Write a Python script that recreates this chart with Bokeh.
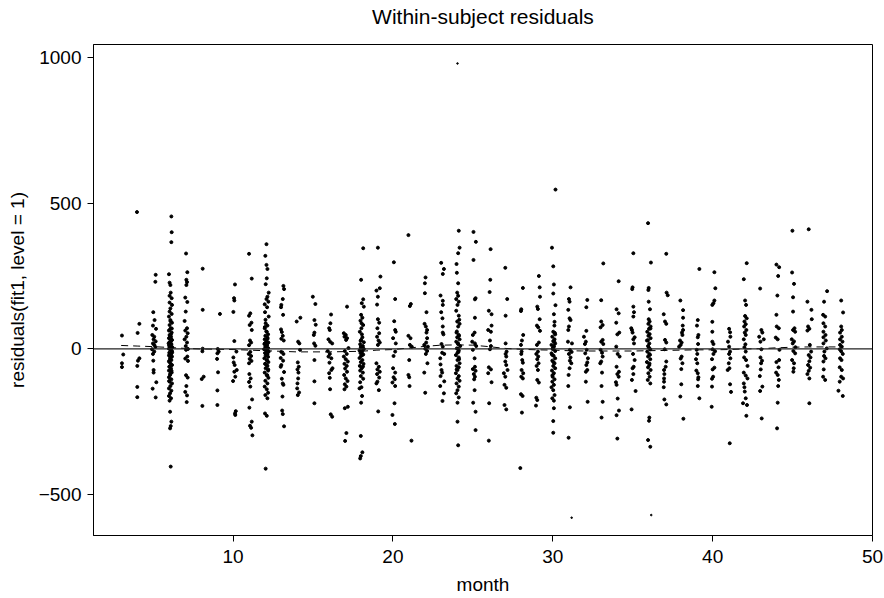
from bokeh.plotting import figure
from bokeh.models import ColumnDataSource, Span, FixedTicker, Range1d, LinearAxis
from bokeh.embed import file_html
from bokeh.resources import INLINE

# (jittered month, within-subject residual), one line per visit month
year1 = [
    (3.05, 46), (3.13, -19), (3.05, -49), (3.05, -62),
    (3.99, 469), (4.14, 86), (4.03, 55), (4.14, -32), (4.05, -40), (4.01, -58), (4.01, -130), (4.01, -165),
    (5.16, 254), (5.14, 230), (5.01, 126), (5.09, 99), (4.99, 80), (5.18, 69), (4.95, 48), (5.07, 42), (5.03, 33),
    (5.16, 26), (4.99, 19), (5.07, 14), (5.14, 7), (4.93, -1), (5.07, -9), (4.99, -17), (5.01, -40), (5.03, -72),
    (5.03, -81), (5.20, -114), (4.97, -136), (5.16, -166),
    (6.14, 454), (6.16, 400), (6.14, 366), (5.99, 256), (6.03, 227), (6.08, 219), (6.10, 193), (6.03, 182), (6.16, 174),
    (6.03, 159), (6.18, 151), (6.08, 139), (6.03, 128), (6.16, 120), (5.99, 111), (6.08, 99), (6.18, 90), (6.03, 82),
    (6.10, 71), (5.99, 63), (6.16, 56), (6.03, 48), (6.12, 42), (5.99, 37), (6.18, 31), (6.06, 25), (5.97, 19),
    (6.14, 15), (6.03, 10), (6.20, 6), (5.99, 1), (6.10, -3), (6.18, -8), (6.01, -13), (6.12, -17), (5.99, -22),
    (6.18, -26), (6.06, -32), (6.14, -38), (5.99, -43), (6.08, -49), (6.18, -55), (6.01, -61), (6.12, -67), (5.99, -74),
    (6.16, -81), (6.06, -89), (5.99, -97), (6.14, -104), (6.03, -112), (6.18, -118), (6.08, -127), (5.99, -135),
    (6.14, -143), (6.06, -152), (5.99, -161), (6.12, -169), (6.03, -177), (6.06, -215), (6.14, -249), (6.10, -264),
    (6.06, -272), (6.10, -403), (6.05, 5), (6.13, -5), (6.00, 12), (6.09, -20), (6.15, 30), (6.02, -40), (6.11, 50),
    (6.04, -60), (6.17, 70), (6.07, -85), (6.12, 0), (6.01, 22), (6.19, -12), (6.06, 44), (6.10, -30), (6.03, 65),
    (6.15, -75), (6.09, 95), (6.00, -110), (6.13, 18),
    (7.06, 327), (7.14, 263), (7.08, 237), (7.12, 229), (7.08, 219), (7.01, 176), (7.14, 161), (7.04, 128), (6.97, 96),
    (7.12, 71), (7.01, 63), (7.16, 54), (7.08, 42), (6.97, 33), (7.12, 22), (7.04, 10), (7.18, 0), (7.06, -3),
    (7.14, -26), (7.01, -33), (7.18, -41), (7.06, -90), (7.16, -98), (7.08, -127), (7.01, -147), (7.12, -159), (7.10, -182),
    (8.10, 275), (8.10, 134), (8.10, 1), (8.08, -8), (8.16, -95), (8.04, -103), (8.08, -195),
    (9.18, 120), (9.04, 0), (9.10, -9), (9.02, -15), (9.00, -34), (9.06, -80), (9.02, -142), (9.02, -192),
    (10.12, 221), (10.06, 174), (10.08, 166), (10.02, 127), (10.08, 27), (10.21, -9), (10.02, -29), (10.04, -46),
    (10.10, -55), (10.23, -72), (10.08, -78), (10.14, -95), (10.00, -110), (10.17, -213), (10.12, -221), (10.14, -226),
    (11.00, 326), (11.17, 241), (11.08, 122), (11.00, 114), (11.15, 90), (11.04, 82), (11.17, 65), (11.06, 29),
    (11.13, 22), (11.00, 13), (11.08, -10), (10.98, -17), (11.13, -24), (11.04, -34), (11.15, -41), (11.00, -49),
    (11.02, -86), (11.10, -101), (11.00, -113), (11.08, -129), (11.19, -173), (11.02, -201), (11.17, -249),
    (11.06, -263), (11.13, -270), (11.21, -296),
    (12.09, 359), (12.02, 319), (12.09, 288), (12.15, 274), (12.11, 242), (12.04, 222), (12.23, 193), (12.15, 179),
    (12.09, 171), (12.21, 162), (11.98, 153), (12.13, 143), (12.00, 126), (12.23, 111), (12.04, 88), (12.15, 80),
    (11.98, 71), (12.11, 59), (12.19, 50), (12.02, 45), (12.15, 39), (11.98, 33), (12.09, 27), (12.21, 22), (11.96, 17),
    (12.13, 13), (12.02, 8), (12.19, 3), (11.94, -1), (12.11, -5), (12.23, -9), (12.00, -14), (12.15, -18), (12.04, -23),
    (12.19, -27), (11.96, -32), (12.11, -38), (12.21, -45), (12.00, -51), (12.15, -58), (12.04, -66), (12.19, -74),
    (11.98, -81), (12.11, -90), (12.21, -99), (12.02, -109), (12.15, -118), (11.98, -129), (12.11, -138), (12.19, -150),
    (12.02, -158), (12.15, -169), (12.00, -221), (12.11, -229), (12.04, -410), (12.06, 5), (12.17, -10), (12.00, 20),
    (12.13, -40), (12.08, 60), (12.20, -70), (12.03, 100), (12.12, -20), (12.16, 35), (12.05, 0), (12.10, -55),
    (11.99, 75), (12.14, -90), (12.07, 15),
]

year2 = [
    (13.15, 216), (13.19, 205), (13.11, 171), (13.02, 151), (13.00, 143), (13.13, 117), (13.00, 67), (13.05, 58),
    (13.11, 45), (13.02, 35), (13.17, 29), (13.02, -10), (13.15, -17), (12.98, -31), (13.13, -40), (13.02, -55),
    (12.98, -61), (13.19, -79), (13.05, -102), (13.11, -118), (13.15, -123), (13.09, -163), (13.07, -211),
    (13.11, -223), (13.19, -265),
    (14.21, 107), (13.98, 94), (14.07, 25), (14.15, 19), (14.19, -3), (14.05, -46), (14.11, -61), (14.03, -70),
    (14.09, -81), (14.07, -101), (14.03, -118), (14.01, -135), (14.13, -149), (14.05, -158),
    (14.99, 179), (15.15, 154), (15.09, 99), (15.17, 83), (15.09, 56), (15.05, 48), (15.07, 19), (15.15, 11),
    (15.09, -38), (15.09, -111), (15.09, -186),
    (16.13, 118), (16.09, 88), (16.01, 71), (16.05, 65), (15.97, 33), (16.07, 25), (16.20, 19), (15.92, -7),
    (16.05, -17), (15.97, -26), (16.15, -32), (16.03, -47), (16.22, -66), (16.15, -72), (16.01, -83), (16.05, -99),
    (16.07, -138), (16.11, -224), (16.20, -232),
    (17.13, 145), (16.93, 54), (17.05, 48), (16.97, 42), (17.13, 37), (17.07, 31), (17.22, 3), (16.99, -7),
    (17.11, -17), (16.93, -26), (17.05, -35), (17.18, -43), (16.97, -51), (17.11, -58), (17.01, -67), (17.13, -78),
    (16.95, -89), (17.05, -101), (17.16, -110), (16.99, -121), (17.09, -129), (16.97, -138), (16.99, -203),
    (17.18, -198), (17.09, -288), (17.01, -315),
    (18.14, 345), (18.01, 237), (18.14, 170), (18.05, 157), (18.18, 145), (18.01, 117), (18.09, 107), (17.97, 97),
    (18.14, 82), (18.03, 71), (17.93, 59), (18.09, 40), (18.01, 31), (18.18, 23), (17.95, 16), (18.12, 10), (17.99, 6),
    (18.18, 0), (17.91, -5), (18.07, -9), (17.97, -14), (18.14, -19), (18.01, -24), (17.91, -31), (18.09, -38),
    (17.99, -45), (18.16, -51), (17.93, -58), (18.05, -66), (17.95, -74), (18.12, -81), (17.99, -93), (18.14, -102),
    (17.95, -114), (18.03, -131), (17.91, -135), (18.07, -161), (18.01, -184), (17.99, -298), (18.09, -354),
    (17.99, -367), (17.95, -375), (18.06, 50), (18.10, -20), (17.98, 28), (18.13, -60), (18.04, 88), (18.11, 2),
    (19.06, 347), (19.22, 248), (19.18, 208), (18.97, 200), (19.06, 179), (19.01, 152), (19.06, 102), (19.14, 90),
    (19.03, 71), (19.14, 54), (19.01, 42), (19.10, 29), (19.18, 22), (19.06, 14), (18.97, -49), (19.12, -61),
    (19.03, -70), (19.18, -78), (19.01, -86), (19.14, -98), (19.03, -112), (18.97, -118), (19.12, -141), (19.08, -214),
    (20.06, 297), (20.14, 171), (20.08, 95), (20.14, 65), (20.18, 59), (20.01, 37), (20.18, 19), (20.14, -9),
    (20.04, -24), (20.01, -66), (20.14, -81), (20.04, -97), (20.12, -104), (19.97, -115), (20.14, -127), (20.10, -186),
    (19.97, -226), (20.12, -257),
    (20.97, 390), (21.12, 154), (21.06, 147), (20.97, 45), (21.10, 37), (21.06, 14), (21.18, 8), (21.02, -38),
    (20.97, -89), (21.02, -97), (21.04, -127), (21.16, -314),
    (22.04, 245), (22.00, 225), (22.00, 191), (22.10, 126), (21.98, 86), (22.06, 77), (22.14, 65), (22.10, 56),
    (22.14, 37), (22.08, 22), (21.96, 14), (22.19, 8), (22.02, 1), (22.14, -7), (22.06, -17), (22.16, -49),
    (21.96, -81), (22.02, -150),
    (23.02, 295), (23.19, 274), (23.12, 257), (22.98, 183), (23.12, 165), (23.12, 151), (23.02, 126), (23.10, 105),
    (23.12, 77), (23.12, 56), (23.16, 50), (23.04, 17), (23.12, 8), (23.08, -13), (23.21, -17), (22.96, -32),
    (22.98, -53), (23.04, -72), (23.08, -81), (22.98, -93), (23.21, -111), (22.96, -127), (23.19, -152), (23.10, -178),
    (24.04, 978), (24.12, 405), (24.17, 347), (24.08, 328), (23.98, 291), (24.00, 261), (24.08, 225), (24.02, 193),
    (24.08, 182), (23.96, 171), (24.12, 162), (24.04, 151), (23.96, 131), (24.12, 114), (24.02, 94), (24.17, 86),
    (24.08, 77), (23.98, 56), (24.12, 48), (24.02, 40), (24.17, 33), (23.96, 25), (24.08, 17), (24.21, 10), (24.00, 2),
    (24.12, -5), (24.04, -13), (23.94, -21), (24.12, -29), (24.04, -38), (24.17, -49), (23.98, -58), (24.12, -63),
    (24.04, -72), (23.94, -83), (24.12, -93), (24.04, -101), (24.17, -109), (23.98, -118), (24.12, -129), (24.04, -141),
    (23.96, -152), (24.12, -166), (24.04, -184), (24.04, -249), (24.08, -330), (24.06, 20), (24.14, -35), (24.00, 60),
    (24.10, -10), (24.15, 100), (23.99, -70), (24.07, 0), (24.13, 45),
]

year3 = [
    (25.04, 401), (25.19, 367), (25.04, 305), (25.17, 174), (25.13, 170), (25.13, 107), (25.11, 56), (25.00, 48),
    (24.96, 25), (25.13, 19), (25.21, 10), (25.00, -3), (25.11, -32), (25.13, -61), (25.00, -69), (25.17, -75),
    (25.06, -86), (25.13, -95), (25.08, -104), (25.11, -141), (25.02, -184), (25.17, -215), (25.17, -278),
    (26.11, 342), (26.09, 237), (26.05, 195), (26.00, 131), (26.17, 119), (26.17, 80), (25.96, 65), (26.13, 59),
    (26.07, 29), (26.13, 10), (26.07, -1), (26.00, -63), (26.13, -70), (25.96, -83), (26.17, -114), (26.02, -186),
    (26.00, -314),
    (27.03, 278), (27.15, 171), (27.05, 114), (27.05, 19), (27.11, -9), (27.05, -17), (27.09, -26), (27.03, -43),
    (27.09, -55), (27.17, -72), (26.94, -83), (27.03, -95), (26.98, -123), (27.09, -133), (26.98, -192), (27.09, -207),
    (28.13, 209), (28.03, 136), (28.01, 130), (28.15, 48), (28.07, 29), (28.01, 14), (28.05, -9), (28.03, -17),
    (28.09, -38), (28.13, -47), (28.05, -72), (28.15, -83), (28.03, -95), (28.13, -101), (28.01, -155), (28.11, -161),
    (28.07, -218), (27.97, -408),
    (29.13, 250), (29.18, 211), (29.20, 179), (29.03, 145), (29.07, 137), (29.18, 102), (29.01, 80), (29.09, 74),
    (29.20, 62), (29.13, 22), (29.01, 14), (29.07, -9), (28.97, -17), (29.09, -26), (29.03, -35), (29.11, -49),
    (28.99, -58), (29.07, -72), (29.03, -106), (29.13, -115), (28.97, -167), (29.03, -175), (28.95, -194),
    (30.17, 546), (29.95, 347), (30.03, 283), (30.07, 221), (30.03, 190), (30.17, 150), (30.07, 119), (30.11, 93),
    (30.03, 59), (30.15, 50), (29.97, 42), (30.11, 33), (30.03, 27), (30.15, 19), (29.92, 14), (30.07, 8), (29.99, 0),
    (30.15, -7), (29.92, -15), (30.05, -23), (30.15, -32), (29.97, -40), (30.11, -49), (30.03, -58), (30.15, -66),
    (29.95, -74), (30.07, -83), (29.99, -95), (30.11, -104), (29.97, -112), (30.07, -123), (29.92, -131), (30.03, -141),
    (30.11, -158), (29.97, -169), (30.07, -177), (30.07, -203), (30.03, -247), (30.03, -287), (30.01, 3), (30.09, 25),
    (29.96, -20), (30.13, 55), (30.04, -45), (30.10, 80), (29.98, -90), (30.06, 10),
    (31.11, 211), (31.01, 171), (31.05, 162), (30.97, 134), (31.05, 105), (31.11, 99), (31.01, 77), (30.97, 65),
    (30.95, 25), (31.20, 19), (31.07, -3), (31.18, -10), (31.01, -17), (31.11, -29), (31.07, -40), (31.16, -49),
    (31.05, -66), (30.99, -89), (30.97, -127), (31.07, -200), (30.99, -304), (31.18, -578),
    (32.16, 168), (32.10, 143), (32.10, 62), (31.95, 42), (32.07, 25), (32.01, 17), (32.12, -3), (32.03, -15),
    (32.20, -32), (32.16, -46), (32.10, -55), (32.16, -72), (32.07, -78), (32.07, -112), (32.18, -181),
    (33.16, 293), (33.03, 167), (33.03, 94), (33.12, 82), (32.99, 74), (33.12, 31), (33.03, 25), (33.16, 17),
    (32.99, -3), (33.08, -13), (33.12, -26), (33.03, -43), (32.97, -49), (33.08, -81), (33.05, -127), (33.12, -181),
    (33.05, -235),
    (34.12, 232), (33.99, 136), (34.12, 122), (33.97, 90), (34.16, 56), (34.04, 50), (33.97, 8), (34.06, -17),
    (34.18, -26), (33.99, -61), (34.14, -78), (34.04, -86), (34.12, -95), (33.95, -114), (33.99, -123), (34.06, -170),
    (34.14, -211), (33.99, -227), (34.04, -307),
    (35.04, 328), (34.99, 211), (34.97, 205), (35.04, 145), (35.08, 126), (35.04, 111), (34.91, 71), (34.95, 65),
    (34.99, 56), (35.12, 40), (35.04, 33), (35.08, 19), (35.02, -17), (35.12, -38), (35.06, -61), (34.99, -66),
    (35.04, -86), (34.95, -106), (35.18, -144), (34.93, -207),
    (35.96, 431), (36.14, 296), (36.00, 209), (35.98, 202), (36.00, 162), (36.08, 136), (36.00, 102), (36.06, 94),
    (35.98, 86), (36.12, 77), (36.02, 69), (35.91, 59), (36.06, 51), (35.98, 45), (36.12, 37), (35.89, 29), (36.04, 19),
    (35.96, 10), (36.10, -1), (35.91, -9), (36.04, -17), (35.96, -26), (36.10, -35), (35.89, -45), (36.04, -55),
    (35.96, -63), (36.12, -72), (35.98, -83), (36.06, -95), (35.94, -106), (36.10, -118), (36.04, -235), (36.02, -246),
    (35.96, -312), (36.10, -335), (36.16, -569), (36.01, 5), (36.08, -20), (35.95, 30), (36.05, -50), (36.11, 70),
]

year4 = [
    (37.10, 326), (37.12, 193), (37.19, 184), (36.94, 119), (37.02, 94), (37.10, 86), (37.02, 31), (37.10, 22),
    (37.00, -1), (37.10, -43), (37.06, -61), (36.96, -72), (36.98, -86), (36.96, -101), (36.96, -112), (36.94, -131),
    (36.98, -173), (37.10, -190),
    (37.98, 166), (38.15, 133), (38.15, 107), (38.13, 80), (38.15, 65), (38.08, 56), (38.11, 48), (37.96, 29),
    (38.06, 22), (38.00, 14), (37.90, 8), (38.06, -26), (38.00, -33), (38.11, -49), (38.04, -69), (38.04, -121),
    (37.98, -163), (38.17, -239),
    (39.17, 274), (39.07, 99), (39.02, 80), (39.11, 48), (39.07, 40), (39.09, 17), (39.00, -3), (39.04, -17),
    (38.96, -35), (39.04, -49), (38.98, -74), (39.07, -83), (39.11, -97), (39.09, -104), (39.07, -127), (39.17, -169),
    (40.11, 263), (40.17, 208), (40.11, 166), (40.05, 157), (39.98, 151), (39.98, 93), (39.98, 59), (39.98, 25),
    (40.05, 17), (40.00, -1), (40.15, -8), (40.05, -17), (39.96, -35), (40.11, -64), (40.00, -70), (40.03, -95),
    (39.96, -102), (39.96, -129), (39.94, -198),
    (41.03, 69), (41.09, 57), (41.11, 42), (40.96, 25), (41.03, 8), (41.09, -9), (41.03, -17), (41.11, -32),
    (41.01, -49), (41.05, -66), (40.94, -72), (41.09, -121), (41.15, -147), (41.07, -323),
    (42.13, 294), (41.95, 239), (42.03, 166), (42.09, 151), (42.03, 113), (42.13, 105), (41.99, 94), (42.07, 85),
    (41.97, 77), (42.11, 65), (42.01, 56), (42.07, 48), (41.95, 33), (42.05, 16), (41.99, 6), (42.07, -9), (41.97, -29),
    (42.09, -38), (42.18, -58), (41.95, -81), (42.07, -91), (42.18, -101), (41.95, -118), (41.99, -131), (42.01, -146),
    (42.07, -169), (41.90, -186), (42.15, -192), (42.11, -229),
    (42.97, 207), (43.05, 65), (43.11, 56), (42.91, 42), (43.20, 33), (42.99, 25), (43.05, -1), (42.99, -29),
    (43.09, -40), (43.03, -49), (43.01, -70), (42.95, -93), (43.11, -129), (42.97, -144), (43.07, -238),
    (43.99, 289), (44.16, 280), (44.10, 250), (44.05, 183), (43.99, 117), (44.01, 77), (44.14, 71), (43.95, 39),
    (44.07, 33), (44.18, -3), (44.16, -38), (43.99, -45), (44.12, -63), (43.97, -81), (44.07, -89), (44.14, -106),
    (44.10, -127), (44.07, -184), (44.03, -272),
    (44.99, 405), (44.97, 262), (45.09, 223), (45.03, 177), (45.03, 128), (45.12, 71), (45.03, 65), (45.16, 59),
    (44.95, 33), (45.09, 26), (45.01, 19), (45.18, 6), (45.05, -7), (45.16, -15), (44.97, -38), (45.09, -49),
    (45.07, -66), (45.05, -78),
    (46.01, 410), (45.93, 162), (46.18, 134), (46.20, 102), (45.97, 77), (46.05, 69), (45.93, 63), (46.08, 14),
    (46.16, -9), (46.01, -21), (46.12, -29), (46.05, -42), (45.97, -55), (46.10, -64), (46.01, -75), (45.93, -86),
    (46.05, -101), (46.05, -186),
    (47.16, 198), (46.97, 162), (46.91, 117), (47.04, 111), (46.93, 88), (47.04, 77), (46.93, 59), (47.06, 48),
    (46.93, 40), (47.08, 29), (46.93, 19), (47.14, 2), (46.99, -9), (46.97, -24), (47.06, -32), (46.93, -43),
    (46.95, -70), (46.91, -95), (47.04, -106),
    (48.04, 166), (48.16, 125), (48.04, 77), (48.08, 65), (47.97, 56), (48.08, 42), (47.97, 33), (48.12, 25),
    (47.97, 14), (48.08, 8), (47.95, -1), (48.04, -8), (48.14, -17), (47.97, -32), (48.06, -38), (47.95, -63),
    (48.08, -72), (48.04, -95), (48.16, -101), (47.95, -112), (47.87, -143), (48.14, -161),
]

# dashed smooth (lowess) curve through the residuals
smooth_month = [3, 4, 5, 6, 7, 8, 9, 10, 11, 12, 13, 14, 15, 16, 17, 18, 19, 20, 21, 22, 23, 24, 25,
                26, 27, 28, 29, 30, 31, 32, 33, 34, 35, 36, 37, 38, 39, 40, 41, 42, 43, 44, 45, 46, 47, 48]
smooth_resid = [12, 10, 8, 5, 2, 0, -1, -2, -4, -6, -8, -10, -10, -10, -9, -8, -4, -2, 3, 9, 13, 14, 13,
                8, 2, -1, -3, -4, -6, -7, -7, -7, -7, -6, -5, -4, -3, -3, -2, 0, 1, 4, 6, 7, 7, 7]

y_ticks = [-500, 0, 500, 1000]
y_tick_labels = {-500: "\u2212500", 0: "0", 500: "500", 1000: "1000"}
x_ticks = [10, 20, 30, 40, 50]

obs = year1 + year2 + year3 + year4
months = [o[0] for o in obs]
resids = [o[1] for o in obs]
# the three most extreme residuals are drawn as fine dots in the reference
dot_size = [1.6 if abs(r) > 560 else 3.0 for r in resids]
src = ColumnDataSource(dict(month=months, residual=resids, size=dot_size))

FONT = "Liberation Sans"
FS = "19px"

p = figure(width=884, height=598, output_backend="svg", toolbar_location=None,
           x_range=Range1d(1.27, 50.0), y_range=Range1d(-639, 1043),
           min_border_left=93, min_border_right=12, min_border_top=44, min_border_bottom=63)

p.xgrid.visible = False
p.ygrid.visible = False
p.background_fill_color = "white"
p.border_fill_color = "white"
p.outline_line_color = "black"
p.outline_line_width = 1

for ax in (p.xaxis[0], p.yaxis[0]):
    ax.axis_line_color = "black"
    ax.major_tick_line_color = "black"
    ax.major_tick_in = 0
    ax.major_tick_out = 6
    ax.minor_tick_line_color = None
    ax.major_label_text_font = FONT
    ax.major_label_text_font_size = FS
    ax.major_label_text_color = "black"
    ax.axis_label_text_font = FONT
    ax.axis_label_text_font_size = FS
    ax.axis_label_text_font_style = "normal"
    ax.axis_label_text_color = "black"

p.xaxis.ticker = FixedTicker(ticks=x_ticks)
p.xaxis.axis_label = "month"
p.xaxis.major_label_standoff = 8
p.xaxis.axis_label_standoff = 8

p.yaxis.ticker = FixedTicker(ticks=y_ticks)
p.yaxis.major_label_overrides = y_tick_labels
p.yaxis.major_label_orientation = "horizontal"
p.yaxis.axis_label = "residuals(fit1, level = 1)"
p.yaxis.major_label_standoff = 6
p.yaxis.axis_label_standoff = 8

# plot title: carried by a tick-less axis above the frame so it sits high in the top margin
title_axis = LinearAxis(ticker=FixedTicker(ticks=[]), axis_label="Within-subject residuals",
                        axis_line_color=None, major_tick_line_color=None, minor_tick_line_color=None,
                        major_tick_out=0, major_tick_in=0, major_label_standoff=0,
                        axis_label_standoff=17, axis_label_text_font=FONT,
                        axis_label_text_font_size="21px", axis_label_text_font_style="normal",
                        axis_label_text_color="black")
p.add_layout(title_axis, "above")

p.add_layout(Span(location=0, dimension="width", line_color="#222222", line_width=1.2))
p.line(smooth_month, smooth_resid, line_color="black", line_width=1, line_dash="7 5")
p.scatter("month", "residual", source=src, size="size", color="black")

open("out.html", "w").write(file_html(p, INLINE))
